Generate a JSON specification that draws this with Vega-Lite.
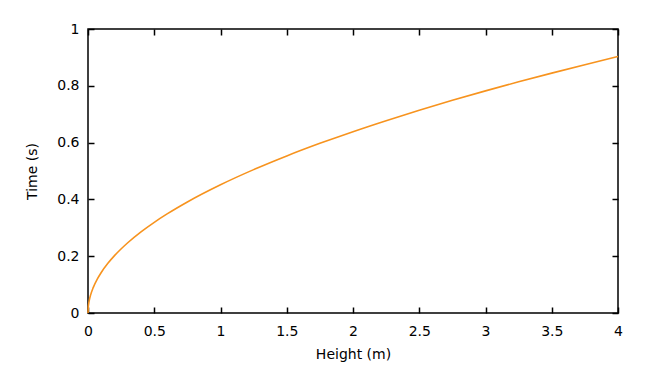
{
  "$schema": "https://vega.github.io/schema/vega-lite/v6.json",
  "width": 530,
  "height": 284,
  "autosize": {"type": "none"},
  "padding": {"left": 88, "top": 29, "right": 33, "bottom": 52},
  "background": "white",
  "config": {
    "view": {"stroke": "black", "strokeWidth": 1.5},
    "font": "DejaVu Sans",
    "axis": {
      "grid": false,
      "domain": false,
      "tickColor": "black",
      "tickSize": -6,
      "tickWidth": 1.5,
      "labelFont": "DejaVu Sans",
      "labelFontSize": 14,
      "labelColor": "black",
      "titleFont": "DejaVu Sans",
      "titleFontSize": 14,
      "titleFontWeight": "normal",
      "titleColor": "black",
      "format": "~g"
    }
  },
  "data": {
    "values": [
      {"h": 0, "t": 0},
      {"h": 0.002, "t": 0.0202},
      {"h": 0.005, "t": 0.0319},
      {"h": 0.01, "t": 0.0452},
      {"h": 0.02, "t": 0.0639},
      {"h": 0.04, "t": 0.0903},
      {"h": 0.07, "t": 0.1195},
      {"h": 0.1, "t": 0.1428},
      {"h": 0.15, "t": 0.1749},
      {"h": 0.2, "t": 0.2019},
      {"h": 0.3, "t": 0.2473},
      {"h": 0.4, "t": 0.2856},
      {"h": 0.5, "t": 0.3193},
      {"h": 0.6, "t": 0.3497},
      {"h": 0.75, "t": 0.391},
      {"h": 1.0, "t": 0.4515},
      {"h": 1.25, "t": 0.5048},
      {"h": 1.5, "t": 0.553},
      {"h": 1.75, "t": 0.5973},
      {"h": 2.0, "t": 0.6386},
      {"h": 2.25, "t": 0.6773},
      {"h": 2.5, "t": 0.7139},
      {"h": 2.75, "t": 0.7488},
      {"h": 3.0, "t": 0.7821},
      {"h": 3.25, "t": 0.814},
      {"h": 3.5, "t": 0.8447},
      {"h": 3.75, "t": 0.8744},
      {"h": 4.0, "t": 0.903}
    ]
  },
  "layer": [
    {
      "mark": {"type": "line", "color": "#f7931e", "strokeWidth": 1.6, "interpolate": "monotone"},
      "encoding": {
        "x": {
          "field": "h", "type": "quantitative",
          "scale": {"domain": [0, 4], "nice": false, "zero": false},
          "axis": {"orient": "bottom", "title": "Height (m)", "format": "~g", "values": [0, 0.5, 1, 1.5, 2, 2.5, 3, 3.5, 4], "labelPadding": 17, "titlePadding": 9, "labelFlush": false, "labelOverlap": false}
        },
        "y": {
          "field": "t", "type": "quantitative",
          "scale": {"domain": [0, 1], "nice": false},
          "axis": {"orient": "left", "title": "Time (s)", "format": "~g", "values": [0, 0.2, 0.4, 0.6, 0.8, 1], "labelPadding": 15, "titlePadding": 17, "labelFlush": false, "labelOverlap": false}
        }
      }
    },
    {
      "mark": {"type": "line", "opacity": 0},
      "encoding": {
        "x": {
          "field": "h", "type": "quantitative",
          "axis": {"orient": "top", "title": null, "labels": false, "values": [0, 0.5, 1, 1.5, 2, 2.5, 3, 3.5, 4]}
        },
        "y": {
          "field": "t", "type": "quantitative",
          "axis": {"orient": "right", "title": null, "labels": false, "values": [0, 0.2, 0.4, 0.6, 0.8, 1]}
        }
      }
    }
  ],
  "resolve": {"axis": {"x": "independent", "y": "independent"}}
}
